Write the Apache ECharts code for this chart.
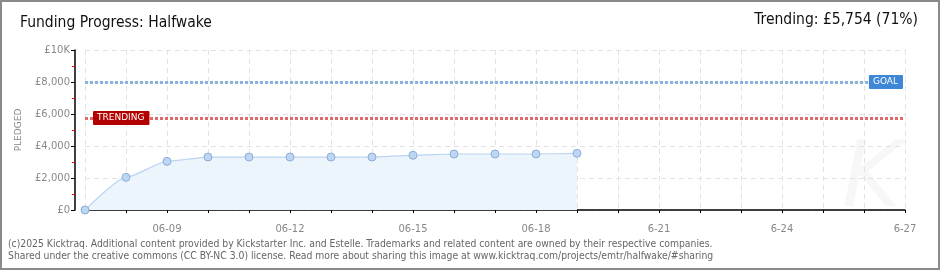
<!DOCTYPE html>
<html><head><meta charset="utf-8">
<script src="https://cdn.jsdelivr.net/npm/echarts@6/dist/echarts.min.js"></script>
<style>html,body{margin:0;padding:0;background:#fff}#c{width:940px;height:270px}</style>
</head><body><div id="c"></div>
<script>
const categories = ['06-07','06-08','06-09','06-10','06-11','06-12','06-13','06-14','06-15','06-16','06-17','06-18','06-19','06-20','6-21','6-22','6-23','6-24','6-25','6-26','6-27'];
const pledged = [0, 2040, 3040, 3310, 3310, 3310, 3310, 3310, 3420, 3500, 3500, 3500, 3540];
const goal = 8000;
const trending = 5754;
const yTickLabels = {0:'£0',2000:'£2,000',4000:'£4,000',6000:'£6,000',8000:'£8,000',10000:'£10K'};
const titleText = 'Funding Progress: Halfwake';
const trendText = 'Trending: £5,754 (71%)';
const footer1 = '(c)2025 Kicktraq. Additional content provided by Kickstarter Inc. and Estelle. Trademarks and related content are owned by their respective companies.';
const footer2 = 'Shared under the creative commons (CC BY-NC 3.0) license. Read more about sharing this image at www.kicktraq.com/projects/emtr/halfwake/#sharing';

const chart = echarts.init(document.getElementById('c'), null, {renderer:'canvas'});
const lblFont = 'DejaVu Sans';
chart.setOption({
  animation:false,
  backgroundColor:'#fff',
  grid:{left:85,right:35,top:50,bottom:60},
  graphic:[
    {type:'rect',shape:{x:1,y:1,width:938,height:268},style:{fill:'none',stroke:'#8a8a8a',lineWidth:2},z:100},
    {type:'text',left:20,top:15,style:{text:titleText,font:'15.5px "Liberation Sans Narrow", "DejaVu Sans Condensed", sans-serif',fill:'#111'}},
    {type:'text',right:22,top:12,style:{text:trendText,font:'15.5px "Liberation Sans Narrow", "DejaVu Sans Condensed", sans-serif',fill:'#111'}},
    {type:'text',left:8,top:239,style:{text:footer1,font:'10.3px "DejaVu Sans Condensed", sans-serif',fill:'#666'}},
    {type:'text',left:8,top:251,style:{text:footer2,font:'10.3px "DejaVu Sans Condensed", sans-serif',fill:'#666'}},
    {type:'text',left:842,top:138,style:{text:'K',font:'italic 90px "DejaVu Sans", sans-serif',fill:'#f7f7f7'},z:-1}
  ],
  xAxis:{
    type:'category',data:categories,boundaryGap:false,offset:10,
    axisLine:{lineStyle:{color:'#000',width:1.5}},
    axisTick:{interval:0,length:3,lineStyle:{color:'#000'}},
    axisLabel:{interval:function(i){return i%3===2;},color:'#888',fontFamily:lblFont,fontSize:10,margin:4},
    splitLine:{show:true,interval:0,lineStyle:{color:'#e2e2e2',type:[5,4]}}
  },
  yAxis:{
    type:'value',min:0,max:10000,interval:2000,offset:10,
    name:'PLEDGED',nameLocation:'middle',nameGap:52,
    nameTextStyle:{color:'#888',fontFamily:lblFont,fontSize:9},
    axisLine:{show:true,lineStyle:{color:'#000',width:1.5}},
    axisTick:{show:true,length:4,lineStyle:{color:'#000'}},
    minorTick:{show:true,splitNumber:2,length:3,lineStyle:{color:'#e00'}},
    axisLabel:{formatter:v=>yTickLabels[v]||'',color:'#888',fontFamily:lblFont,fontSize:10,margin:5},
    splitLine:{show:true,lineStyle:{color:'#e2e2e2',type:[5,4]}}
  },
  series:[{
    type:'line',data:pledged,smooth:0.2,smoothMonotone:'x',
    symbol:'circle',symbolSize:8,
    lineStyle:{color:'#bcd5f2',width:1.2},
    itemStyle:{color:'#bdd6f4',borderColor:'#8eaed6',borderWidth:1},
    areaStyle:{color:'#ecf4fc',opacity:1},
    markLine:{
      silent:true,symbol:'none',
      data:[
        {yAxis:goal,lineStyle:{color:'#8ab2df',type:[3,2],width:3},
          label:{show:true,position:'insideEnd',distance:2,formatter:'GOAL',color:'#fff',backgroundColor:'#3d87d6',
            padding:[3,5,2,4],fontFamily:lblFont,fontSize:9,borderRadius:1}},
        {yAxis:trending,lineStyle:{color:'#df6a6a',type:[3,2],width:3},
          label:{show:true,position:'insideStart',distance:8,formatter:'TRENDING',color:'#fff',backgroundColor:'#b30000',
            padding:[3,5,2,4],fontFamily:lblFont,fontSize:9,borderRadius:1}}
      ]
    }
  }]
});
</script></body></html>
